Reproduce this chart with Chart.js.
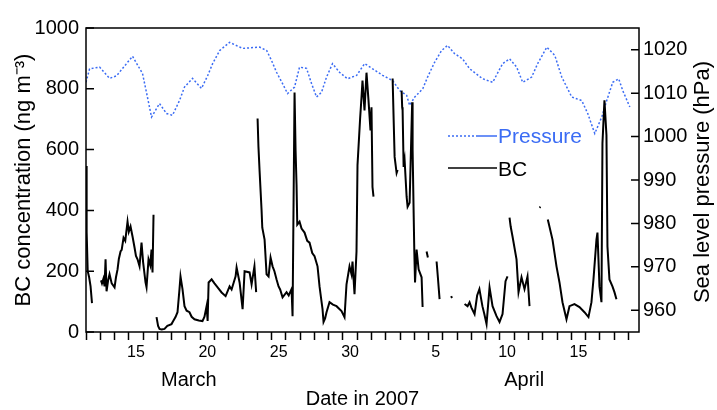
<!DOCTYPE html>
<html>
<head>
<meta charset="utf-8">
<title>BC and pressure, spring 2007</title>
<script src="https://cdn.jsdelivr.net/npm/chart.js@4/dist/chart.umd.min.js"></script>
<style>
  body { margin: 0; background: #fff; }
  #wrap { width: 717px; height: 410px; }
</style>
</head>
<body>
<div id="wrap"><canvas id="chart"></canvas></div>
<script>
// time axis is in days counted from 1 March 2007 (32 = 1 April)
var dayLabelAt = [15, 20, 25, 30, 36, 41, 46];
var dayLabelText = ['15', '20', '25', '30', '5', '10', '15'];
var monthNames = ['March', 'April'];
var monthAt = [19.2, 42.7];

var bcTicks = [0, 200, 400, 600, 800, 1000];
var pressTicks = [960, 970, 980, 990, 1000, 1010, 1020];

// sea level pressure (hPa)
var pressDay = [
  12.0, 12.25, 12.95, 13.65, 14.14, 14.84, 15.26, 15.96, 16.31, 16.59,
  17.15, 17.64, 18.06, 18.55, 18.90, 19.46, 20.09, 20.52, 20.87, 21.36,
  22.06, 22.97, 24.16, 24.66, 25.0, 25.35, 25.77, 26.12, 26.61, 26.96,
  27.45, 27.80, 28.15, 28.50, 28.85, 29.27, 29.76, 30.32, 30.96, 31.52,
  32.08, 32.78, 33.48, 33.97, 34.46, 34.67, 35.03, 35.59, 35.93, 36.42,
  36.91, 37.33, 37.82, 38.38, 38.88, 39.79, 40.49, 41.19, 41.68, 42.17,
  42.59, 43.22, 43.64, 44.28, 44.84, 45.33, 46.03, 46.73, 47.15, 47.64,
  48.13, 48.48, 48.90, 49.32, 49.60, 50.10
];
var pressure = [
  1012.5, 1015.6, 1016.0, 1013.4, 1014.0, 1016.8, 1018.5, 1014.5, 1009.0, 1004.5,
  1007.6, 1005.3, 1004.9, 1008.3, 1011.4, 1013.4, 1011.1, 1014.0, 1016.8, 1019.8,
  1021.7, 1020.3, 1020.6, 1019.8, 1017.5, 1014.8, 1012.2, 1009.9, 1011.4, 1016.0,
  1015.7, 1012.2, 1009.1, 1010.2, 1013.7, 1016.8, 1014.8, 1013.3, 1014.1, 1016.8,
  1015.6, 1014.1, 1012.9, 1010.6, 1009.5, 1007.2, 1009.1, 1011.0, 1013.7, 1017.1,
  1019.8, 1021.0, 1019.1, 1017.9, 1015.6, 1013.3, 1012.5, 1016.8, 1017.9, 1016.0,
  1012.5, 1013.7, 1016.8, 1020.6, 1018.7, 1013.7, 1009.1, 1008.3, 1005.3, 1000.7,
  1004.5, 1008.3, 1012.5, 1013.3, 1010.6, 1006.8
];

// black carbon (ng m-3), null = no data
var bcDay = [
  12.01, 12.03, 12.06, 12.12, 12.22, 12.32, 12.42, 12.7,
  13.05, 13.12, 13.22, 13.3, 13.37, 13.44, 13.55, 13.65, 13.8, 14.0,
  14.1, 14.21, 14.3, 14.42, 14.5, 14.63, 14.75, 14.91, 15.0, 15.12,
  15.26, 15.4, 15.5, 15.61, 15.75, 15.89, 16.0, 16.17, 16.24, 16.38,
  16.5, 16.59, 16.66, 16.73, 16.85,
  16.94, 17.05, 17.15, 17.3, 17.5, 17.7, 17.99, 18.1, 18.27, 18.41,
  18.55, 18.62, 18.76, 18.9, 19.05, 19.25, 19.4, 19.6, 19.9, 20.16,
  20.3, 20.45, 20.52, 20.59, 20.8, 21.0, 21.22, 21.5, 21.78, 22.06,
  22.2, 22.48, 22.55, 22.76, 22.97, 23.11, 23.46, 23.6, 23.8, 23.92,
  23.98,
  24.02, 24.08, 24.16, 24.3, 24.35, 24.51, 24.65, 24.79, 24.93, 25.07,
  25.2, 25.35, 25.49, 25.6, 25.77, 26.05, 26.2, 26.4, 26.47, 26.61,
  26.68, 26.75, 26.8, 26.96, 27.1, 27.31, 27.5, 27.66, 27.85, 28.01,
  28.22, 28.36, 28.5, 28.57, 28.64, 28.75, 28.85, 29.06, 29.3, 29.55,
  29.9, 30.11, 30.25, 30.46, 30.6, 30.67, 30.81, 30.95, 31.02, 31.2,
  31.3, 31.37, 31.51, 31.65, 31.79, 31.93, 32.0, 32.07, 32.14, 32.8,
  33.48, 33.55, 33.62, 33.76, 33.83, 33.97,
  34.11, 34.15, 34.18, 34.25, 34.32, 34.46, 34.53, 34.67, 34.85, 34.88,
  34.95, 35.0, 35.05, 35.16, 35.3, 35.51, 35.58, 35.7,
  35.86, 35.95, 36.2, 36.56, 36.65, 36.77, 37.2, 37.58, 37.64, 38.0,
  38.52, 38.73, 38.87, 39.0, 39.22, 39.4, 39.56, 39.77, 39.9, 40.06,
  40.27, 40.48, 40.76, 40.97, 41.18, 41.39, 41.53, 41.6,
  41.67, 41.75, 41.88, 42.16, 42.3, 42.51, 42.72, 42.93, 43.07, 43.4,
  43.77, 43.84, 44.1,
  44.35, 44.4, 44.68, 44.96, 45.17, 45.38, 45.66, 45.87, 46.22, 46.57,
  46.92, 47.2, 47.41, 47.55, 47.76, 47.83, 47.97, 48.11, 48.18, 48.32,
  48.46, 48.53, 48.67, 48.88, 49.02, 49.16
];
var bcConc = [
  546, 420, 330, 200, 180, 150, 95, null,
  170, 160, 175, 150, 239, 134, 170, 190, 160, 147,
  180, 206, 240, 265, 270, 310, 300, 363, 330, 347,
  314, 278, 250, 239, 216, 294, 230, 163, 147, 239,
  220, 271, 196, 386, null,
  49, 20, 10, 8, 10, 20, 26, 35, 49, 65,
  141, 183, 141, 85, 70, 65, 50, 42, 38, 36,
  50, 85, 36, 163, 173, 160, 147, 130, 118, 150,
  140, 183, 212, 163, 75, 200, 196, 157, 216, 131,
  null,
  702, 610, 530, 400, 343, 304, 190, 183, 245, 216,
  200, 173, 150, 140, 114, 131, 120, 141, 52, 788,
  600, 484, 353, 363, 340, 327, 300, 294, 260, 249,
  216, 150, 100, 75, 33, 45, 65, 98, 90, 85,
  69, 49, 157, 216, 190, 232, 124, 265, 549, 700,
  772, 827, 729, 853, 762, 663, 739, 477, 445, null,
  834, 702, 576, 523, 533, null,
  794, 739, 729, 543, 565, 445, 412, 425, 756, 600,
  400, 265, 163, 271, 206, 180, 82, null,
  265, 245, null, 232, 180, 108, null, 118, 112, null,
  92, 85, 98, 80, 59, 120, 141, 85, 60, 26,
  147, 85, 52, 33, 59, 167, 183, null,
  376, 347, 314, 239, 131, 180, 141, 183, 85, null,
  409, 412, null,
  370, 360, 304, 216, 163, 98, 42, 85, 92, 82,
  65, 49, 98, 173, 304, 327, 150, 98, 621, 762,
  647, 281, 173, 150, 131, 108
];

var blue = '#3b6cf4';
var fontFamily = '"Liberation Sans", Arial, sans-serif';
Chart.defaults.font.family = fontFamily;
Chart.defaults.color = '#000';

function plain(v) { return String(v); }

// box round the plot, inward ticks on both y axes, right title, month names and key
var framePlugin = {
  id: 'framePlugin',
  afterDraw: function(chart) {
    var ctx = chart.ctx;
    var a = chart.chartArea;
    var x = chart.scales.x, y = chart.scales.y, y2 = chart.scales.y2;
    ctx.save();
    ctx.strokeStyle = '#000';
    ctx.lineWidth = 1.5;
    ctx.strokeRect(a.left, a.top, a.right - a.left, a.bottom - a.top);

    ctx.beginPath();
    y.ticks.forEach(function(t) {
      var p = y.getPixelForValue(t.value);
      ctx.moveTo(a.left, p);
      ctx.lineTo(a.left + 8, p);
    });
    y2.ticks.forEach(function(t) {
      var p = y2.getPixelForValue(t.value);
      ctx.moveTo(a.right - 8, p);
      ctx.lineTo(a.right, p);
    });
    ctx.stroke();

    // right axis title reads bottom to top like the left one
    ctx.save();
    ctx.translate(y2.right - 14, (a.top + a.bottom) / 2 + 2);
    ctx.rotate(-Math.PI / 2);
    ctx.font = '22px ' + fontFamily;
    ctx.fillStyle = '#000';
    ctx.textAlign = 'center';
    ctx.textBaseline = 'middle';
    ctx.fillText('Sea level pressure (hPa)', 0, 0);
    ctx.restore();

    ctx.font = '20px ' + fontFamily;
    ctx.fillStyle = '#000';
    ctx.textAlign = 'center';
    ctx.textBaseline = 'middle';
    monthNames.forEach(function(m, i) {
      ctx.fillText(m, x.getPixelForValue(monthAt[i]), 380);
    });

    // key
    var kx = 448, ky = 136;
    ctx.lineWidth = 1.5;
    ctx.strokeStyle = blue;
    ctx.setLineDash([2, 2]);
    ctx.beginPath();
    ctx.moveTo(kx, ky);
    ctx.lineTo(kx + 30, ky);
    ctx.stroke();
    ctx.setLineDash([]);
    ctx.beginPath();
    ctx.moveTo(kx + 30, ky);
    ctx.lineTo(kx + 49, ky);
    ctx.stroke();
    ctx.strokeStyle = '#000';
    ctx.beginPath();
    ctx.moveTo(kx, ky + 32);
    ctx.lineTo(kx + 49, ky + 32);
    ctx.stroke();

    ctx.font = '21px ' + fontFamily;
    ctx.textAlign = 'left';
    ctx.fillStyle = blue;
    ctx.fillText('Pressure', kx + 50, ky + 1);
    ctx.fillStyle = '#000';
    ctx.fillText('BC', kx + 50, ky + 34);
    ctx.restore();
  }
};

var ctx = document.getElementById('chart').getContext('2d');
var myChart = new Chart(ctx, {
  type: 'line',
  data: {
    datasets: [{
      label: 'BC',
      data: bcDay.map(function(d, i) { return {x: d, y: bcConc[i]}; }),
      yAxisID: 'y',
      borderColor: '#000',
      borderWidth: 2,
      pointRadius: 0,
      spanGaps: false
    },
    {
      label: 'Pressure',
      data: pressDay.map(function(d, i) { return {x: d, y: pressure[i]}; }),
      yAxisID: 'y2',
      borderColor: blue,
      borderWidth: 1.5,
      borderDash: [2, 2],
      pointRadius: 0
    }]
  },
  options: {
    responsive: true,
    maintainAspectRatio: false,
    animation: false,
    layout: { padding: { top: 28, left: 0, right: 0, bottom: 0 } },
    plugins: { legend: { display: false }, tooltip: { enabled: false } },
    scales: {
      x: {
        type: 'linear',
        min: 12,
        max: 50.74,
        afterBuildTicks: function(s) {
          var t = [];
          for (var d = 12; d <= 50; d++) t.push({value: d});
          dayLabelAt.forEach(function(v) { t.push({value: v + 0.5}); });
          t.sort(function(a, b) { return a.value - b.value; });
          s.ticks = t;
        },
        afterFit: function(s) { s.height = 78; },
        ticks: {
          autoSkip: false,
          maxRotation: 0,
          padding: 3,
          font: { size: 16 },
          callback: function(v) {
            var i = dayLabelAt.indexOf(v - 0.5);
            return i < 0 ? '' : dayLabelText[i];
          }
        },
        grid: {
          drawOnChartArea: false,
          tickLength: 8,
          tickWidth: 1.5,
          tickColor: function(c) {
            return c.tick && Number.isInteger(c.tick.value) ? '#000' : 'rgba(0,0,0,0)';
          }
        },
        border: { display: false },
        title: {
          display: true,
          text: 'Date in 2007',
          font: { size: 20, lineHeight: 1 },
          padding: { top: 0, bottom: 1 }
        }
      },
      y: {
        position: 'left',
        min: 0,
        max: 1000,
        afterBuildTicks: function(s) {
          s.ticks = bcTicks.map(function(v) { return {value: v}; });
        },
        afterFit: function(s) { s.width = 86; },
        ticks: { padding: 7, font: { size: 20 }, callback: plain },
        grid: { display: false, drawTicks: false },
        border: { display: false },
        title: {
          display: true,
          text: 'BC concentration (ng m\u207B\u00B3)',
          font: { size: 22 },
          padding: { top: 11, bottom: 0 }
        }
      },
      y2: {
        position: 'right',
        min: 955,
        max: 1025,
        afterBuildTicks: function(s) {
          s.ticks = pressTicks.map(function(v) { return {value: v}; });
        },
        afterFit: function(s) { s.width = 78; },
        ticks: { padding: 4, font: { size: 20 }, callback: plain },
        grid: { display: false, drawTicks: false },
        border: { display: false },
        title: { display: false }
      }
    }
  },
  plugins: [framePlugin]
});
</script>
</body>
</html>
